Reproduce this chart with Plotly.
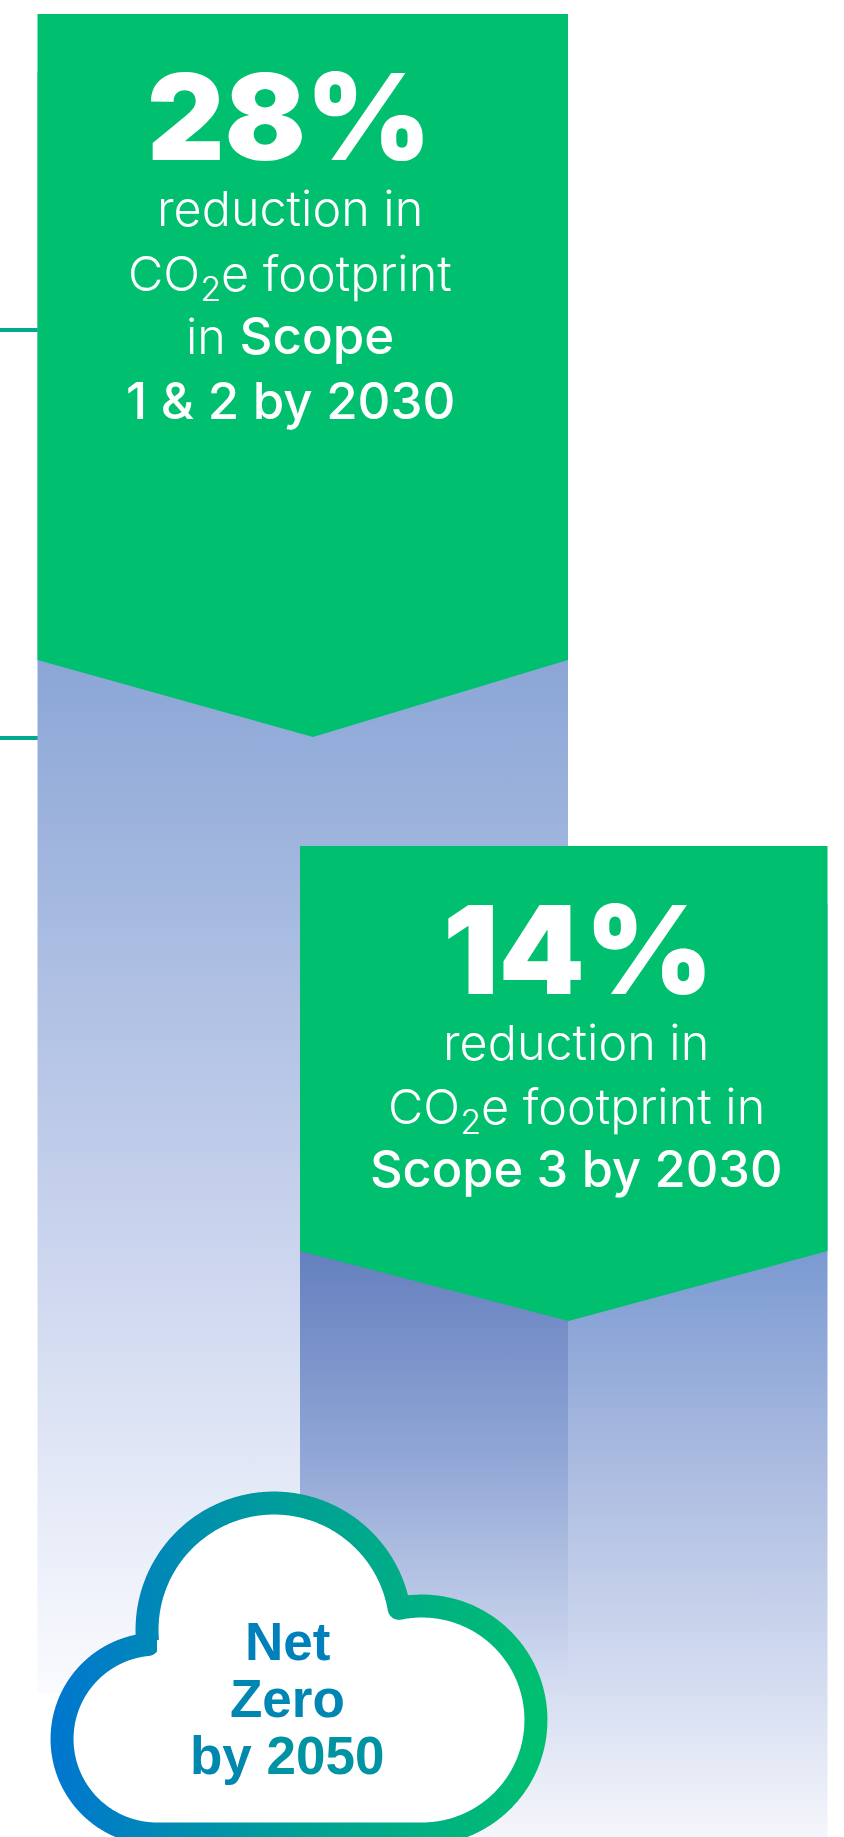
import numpy as np
import plotly.graph_objects as go

# Reduction targets
reductions = [28, 14]
line_one = ["reduction in", "reduction in"]
line_two = ["CO<sub>2</sub>e footprint", "CO<sub>2</sub>e footprint in"]
line_three = ['in <span style="font-weight:500;font-size:51px">Scope</span>', "Scope 3 by 2030"]
line_four = ["1 &amp; 2 by 2030"]
cloud_lines = [
    '<span style="color:#0080bb">Net</span>',
    '<span style="color:#0086b2">Zero</span>',
    '<span style="color:#0088ae">by</span> <span style="color:#0094a2">2050</span>',
]

W, H = 844, 1837
GREEN = "#00bf6f"
TEAL = "#00a98f"
LIGHT = "Inter"
BODY = "Liberation Sans"

fig = go.Figure()


def polygon(xs, ys, **kw):
    fig.add_trace(go.Scatter(x=xs, y=ys, mode="none", fill="toself", hoverinfo="skip",
                             showlegend=False, **kw))


def fading(x0, x1, y0, y1, ref0, stops):
    # Column filled with a vertical fade; stops are (y, colour) pairs
    scale = [[(y - ref0) / (y1 - ref0), c] for y, c in stops]
    polygon([x0, x1, x1, x0, x0], [y0, y0, y1, y1, y0],
            fillgradient=dict(type="vertical", start=ref0, stop=y1, colorscale=scale))


def pennant(x0, x1, top, side, tip_x, tip_y):
    polygon([x0, x1, x1, tip_x, x0, x0], [top, top, side, tip_y, side, top], fillcolor=GREEN)


# Rule marks at the left edge
for y in (330, 738):
    fig.add_trace(go.Scatter(x=[0, 38], y=[y, y], mode="lines", hoverinfo="skip", showlegend=False,
                             line=dict(color=TEAL, width=4)))

fading(37.5, 568, 72, 1693, 660,
       [(660, "#8ba6d6"), (1251, "#cbd5ee"), (1693, "#fafbfe")])
fading(300, 827.5, 904, 1837, 1251,
       [(1251, "#7a9ad2"), (1450, "#a8b9df"), (1693, "#d6def1"), (1837, "#f5f6fb")])
# Where the two columns overlap the tints darken each other
fading(300, 568, 904, 1693, 1251,
       [(1251, "#6580bf"), (1450, "#8fa5d5"), (1693, "#d6def1")])
pennant(37.5, 568, 14, 660, 313, 737)
pennant(300, 827.5, 846, 1251, 568.5, 1321)

# Cloud outline: three lobes, a flat base and round joins at the two creases
lobes = [(157, 1739, 95), (274, 1630, 127), (422, 1720, 114)]
centre = (250, 1760)
base_y = 1834
half = 11.5


def crossing(a, b):
    # Upper intersection of two lobe circles
    (x0, y0, r0), (x1, y1, r1) = a, b
    d = np.hypot(x1 - x0, y1 - y0)
    t = (d * d + r0 * r0 - r1 * r1) / (2 * d)
    h = np.sqrt(r0 * r0 - t * t)
    ux, uy = (x1 - x0) / d, (y1 - y0) / d
    pts = [(x0 + t * ux + s * h * uy, y0 + t * uy - s * h * ux) for s in (1, -1)]
    return min(pts, key=lambda p: p[1])


creases = [(lobes[0], lobes[1], crossing(lobes[0], lobes[1])),
           (lobes[1], lobes[2], crossing(lobes[1], lobes[2]))]


def inside(px, py, grow):
    hit = (px >= lobes[0][0]) & (px <= lobes[2][0]) & (py >= 1640) & (py <= base_y + grow)
    for cx, cy, r in lobes:
        hit |= (px - cx) ** 2 + (py - cy) ** 2 <= (r + grow) ** 2
    if grow < 0:
        # Behind a crease the stroke ends in a round join, not a spike
        for a, b, (cx, cy) in creases:
            ax, ay, bx, by = a[0] - cx, a[1] - cy, b[0] - cx, b[1] - cy
            det = ax * by - ay * bx
            s = ((px - cx) * by - (py - cy) * bx) / det
            t = (ax * (py - cy) - ay * (px - cx)) / det
            wedge = (s >= 0) & (t >= 0) & (s + t <= 1)
            hit |= wedge & ((px - cx) ** 2 + (py - cy) ** 2 > grow ** 2)
    return hit


def contour(grow):
    angles = np.linspace(0, 2 * np.pi, 2881)
    radii = np.arange(0, 340, 0.1)
    xs, ys = [], []
    for a in angles:
        px = centre[0] + radii * np.cos(a)
        py = centre[1] + radii * np.sin(a)
        last = np.argmin(inside(px, py, grow)) - 1
        xs.append(px[last])
        ys.append(py[last])
    return xs, ys


ox, oy = contour(half)
polygon(ox, oy, fillgradient=dict(type="horizontal", start=50, stop=548,
                                  colorscale=[[0, "#0076d0"], [0.5, "#00a096"], [1, "#00c06f"]]))
ix, iy = contour(-half)
polygon(ix, iy, fillcolor="#ffffff")


def label(x, baseline, text, size, family=BODY, weight=400, color="#ffffff"):
    fig.add_annotation(x=x, y=baseline, text=text, showarrow=False, xanchor="center", yanchor="bottom",
                       yshift=-0.26 * size, align="center",
                       font=dict(family=family, size=size, color=color, weight=weight))


# Left block
label(289, 160, f"{reductions[0]}%", 120, LIGHT, 900)
label(290, 227, line_one[0], 48.5, LIGHT, 300)
label(290, 298, line_two[0], 48.5, LIGHT, 300)
label(290, 355, line_three[0], 48.5, LIGHT, 300)
label(290, 420, line_four[0], 51, LIGHT, 500)

# Right block
label(578, 994, f"{reductions[1]}%", 123, LIGHT, 900)
label(576, 1061, line_one[1], 48.5, LIGHT, 300)
label(576, 1131, line_two[1], 48.5, LIGHT, 300)
label(576, 1188, line_three[1], 50.5, LIGHT, 500)

# Cloud caption
for base, txt in zip((1659, 1716, 1773), cloud_lines):
    label(287, base, f"<b>{txt}</b>", 53, BODY, 700)

fig.update_layout(
    width=W, height=H, margin=dict(l=0, r=0, t=0, b=0),
    paper_bgcolor="#ffffff", plot_bgcolor="#ffffff",
    xaxis=dict(range=[0, W], visible=False, fixedrange=True),
    yaxis=dict(range=[H, 0], visible=False, fixedrange=True),
)
fig.write_html("out.html", config=dict(displayModeBar=False))
